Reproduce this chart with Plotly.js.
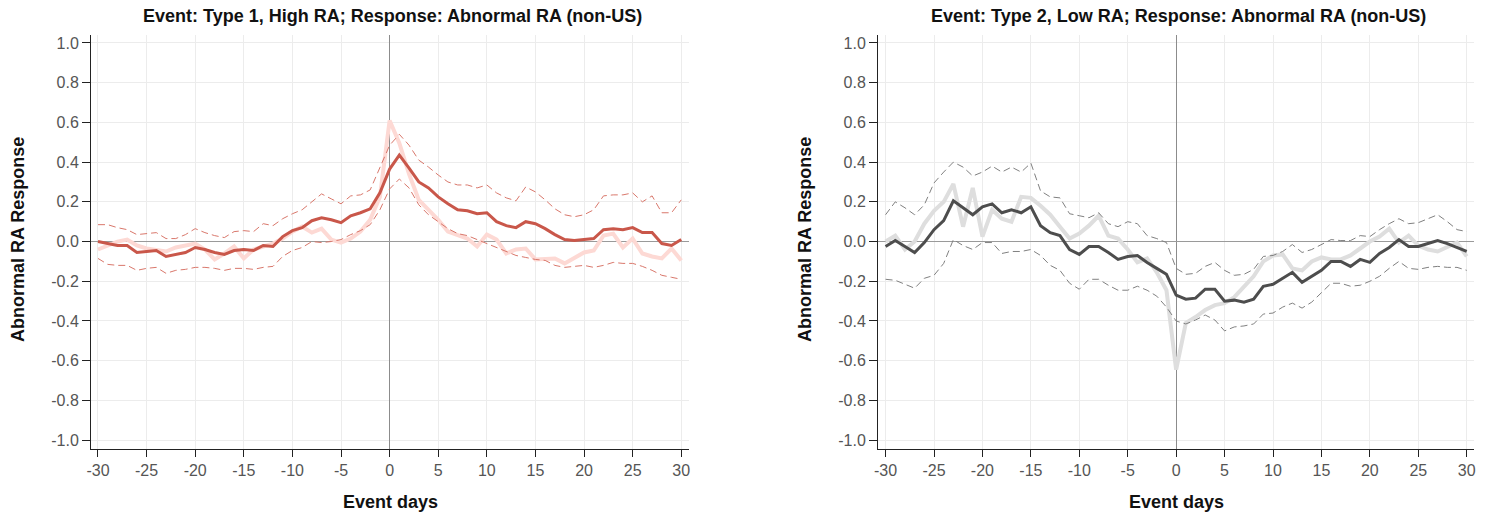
<!DOCTYPE html>
<html>
<head>
<meta charset="utf-8">
<script src="https://cdn.plot.ly/plotly-3.0.1.min.js"></script>
<style>html,body{margin:0;padding:0;background:#fff;}#chart{width:1494px;height:515px;}</style>
</head>
<body>
<div id="chart"></div>
<script>
const days = [-30,-29,-28,-27,-26,-25,-24,-23,-22,-21,-20,-19,-18,-17,-16,-15,-14,-13,-12,-11,-10,-9,-8,-7,-6,-5,-4,-3,-2,-1,0,1,2,3,4,5,6,7,8,9,10,11,12,13,14,15,16,17,18,19,20,21,22,23,24,25,26,27,28,29,30];

// Panel 1: Type 1, High RA
const highMain = [0.0,-0.01,-0.02,-0.02,-0.055,-0.05,-0.045,-0.075,-0.065,-0.055,-0.03,-0.04,-0.055,-0.065,-0.045,-0.04,-0.045,-0.02,-0.025,0.025,0.055,0.07,0.105,0.12,0.11,0.095,0.13,0.145,0.165,0.245,0.365,0.435,0.37,0.30,0.27,0.225,0.19,0.16,0.155,0.14,0.145,0.10,0.08,0.07,0.10,0.09,0.065,0.035,0.01,0.005,0.01,0.015,0.06,0.065,0.06,0.07,0.045,0.045,-0.01,-0.02,0.01];
const highRaw = [-0.04,-0.02,0.0,0.01,-0.02,-0.035,-0.04,-0.05,-0.03,-0.02,-0.01,-0.04,-0.09,-0.06,-0.025,-0.085,-0.04,-0.025,-0.01,0.015,0.05,0.075,0.045,0.065,0.01,-0.005,0.015,0.05,0.11,0.225,0.61,0.495,0.34,0.21,0.16,0.11,0.05,0.035,0.015,-0.025,0.035,0.01,-0.06,-0.04,-0.035,-0.09,-0.085,-0.085,-0.11,-0.08,-0.055,-0.045,0.03,0.04,-0.03,0.015,-0.06,-0.075,-0.085,-0.035,-0.095];
const highUpper = [0.085,0.085,0.07,0.06,0.035,0.04,0.045,0.015,0.015,0.035,0.065,0.045,0.03,0.02,0.05,0.055,0.05,0.09,0.08,0.115,0.14,0.16,0.20,0.24,0.215,0.19,0.23,0.235,0.26,0.375,0.485,0.54,0.485,0.41,0.375,0.335,0.30,0.285,0.285,0.27,0.285,0.245,0.22,0.205,0.275,0.25,0.21,0.165,0.135,0.125,0.135,0.16,0.23,0.235,0.235,0.245,0.20,0.23,0.145,0.145,0.21];
const highLower = [-0.085,-0.115,-0.12,-0.12,-0.145,-0.135,-0.13,-0.16,-0.145,-0.14,-0.13,-0.13,-0.135,-0.145,-0.135,-0.135,-0.14,-0.13,-0.125,-0.075,-0.045,-0.03,0.0,-0.005,0.0,0.01,0.035,0.055,0.085,0.16,0.265,0.315,0.27,0.185,0.135,0.10,0.065,0.04,0.03,0.01,-0.01,-0.03,-0.05,-0.07,-0.08,-0.09,-0.095,-0.12,-0.13,-0.125,-0.12,-0.13,-0.12,-0.105,-0.11,-0.11,-0.125,-0.145,-0.17,-0.18,-0.19];

// Panel 2: Type 2, Low RA
const lowMain = [-0.025,0.005,-0.025,-0.055,-0.005,0.06,0.105,0.205,0.17,0.135,0.175,0.19,0.145,0.16,0.145,0.175,0.08,0.045,0.03,-0.04,-0.065,-0.025,-0.025,-0.055,-0.09,-0.075,-0.07,-0.105,-0.135,-0.165,-0.27,-0.29,-0.285,-0.24,-0.24,-0.30,-0.295,-0.305,-0.29,-0.225,-0.215,-0.185,-0.155,-0.205,-0.175,-0.145,-0.10,-0.10,-0.125,-0.09,-0.105,-0.06,-0.03,0.01,-0.025,-0.025,-0.01,0.005,-0.01,-0.03,-0.05];
const lowRaw = [0.0,0.03,-0.04,0.0,0.09,0.155,0.20,0.29,0.075,0.27,0.025,0.16,0.115,0.10,0.225,0.22,0.18,0.135,0.075,0.015,0.04,0.08,0.13,0.03,0.015,-0.04,-0.105,-0.085,-0.155,-0.245,-0.645,-0.41,-0.38,-0.345,-0.32,-0.31,-0.28,-0.23,-0.175,-0.10,-0.07,-0.065,-0.135,-0.145,-0.10,-0.08,-0.09,-0.09,-0.07,-0.035,0.0,0.025,0.065,-0.005,0.03,-0.02,-0.04,-0.05,-0.03,-0.005,-0.075];
const lowUpper = [0.135,0.20,0.17,0.135,0.185,0.295,0.35,0.40,0.375,0.33,0.35,0.38,0.35,0.375,0.35,0.395,0.255,0.225,0.22,0.14,0.13,0.12,0.145,0.09,0.075,0.10,0.09,0.03,0.015,-0.005,-0.135,-0.165,-0.16,-0.125,-0.105,-0.145,-0.17,-0.165,-0.14,-0.075,-0.07,-0.05,-0.015,-0.055,-0.04,-0.015,0.01,0.005,0.005,0.03,0.025,0.06,0.09,0.115,0.09,0.095,0.115,0.135,0.10,0.06,0.05];
const lowLower = [-0.19,-0.195,-0.215,-0.235,-0.185,-0.17,-0.11,0.01,-0.02,-0.04,-0.005,-0.005,-0.06,-0.05,-0.05,-0.04,-0.07,-0.12,-0.145,-0.21,-0.24,-0.19,-0.19,-0.22,-0.245,-0.245,-0.225,-0.245,-0.275,-0.33,-0.40,-0.415,-0.395,-0.37,-0.395,-0.45,-0.43,-0.425,-0.415,-0.365,-0.36,-0.33,-0.31,-0.335,-0.305,-0.255,-0.21,-0.21,-0.225,-0.22,-0.20,-0.175,-0.135,-0.10,-0.135,-0.14,-0.13,-0.125,-0.13,-0.13,-0.145];

const xTickVals = [-30,-25,-20,-15,-10,-5,0,5,10,15,20,25,30];
const xTickText = ["-30","-25","-20","-15","-10","-5","0","5","10","15","20","25","30"];
const yTickVals = [-1.0,-0.8,-0.6,-0.4,-0.2,0.0,0.2,0.4,0.6,0.8,1.0];
const yTickText = ["-1.0","-0.8","-0.6","-0.4","-0.2","0.0","0.2","0.4","0.6","0.8","1.0"];

const titles = ["Event: Type 1, High RA; Response: Abnormal RA (non-US)", "Event: Type 2, Low RA; Response: Abnormal RA (non-US)"];
const xTitle = "Event days";
const yTitle = "Abnormal RA Response";

const FONT = "Liberation Sans, Arial, sans-serif";
const DASH = "7px,4px";
const W = 1494, H = 515;

function line(x, y, xa, ya, color, width, dash) {
  return {x: x, y: y, xaxis: xa, yaxis: ya, type: "scatter", mode: "lines",
    line: {color: color, width: width, dash: dash || "solid"}, hoverinfo: "skip", showlegend: false};
}

const traces = [
  line(days, highRaw, "x", "y", "#fdd9d4", 4),
  line(days, highUpper, "x", "y", "#d9776b", 1, DASH),
  line(days, highLower, "x", "y", "#d9776b", 1, DASH),
  line(days, highMain, "x", "y", "#c9574a", 3),
  line(days, lowRaw, "x2", "y2", "#dedede", 4),
  line(days, lowUpper, "x2", "y2", "#808080", 1, DASH),
  line(days, lowLower, "x2", "y2", "#808080", 1, DASH),
  line(days, lowMain, "x2", "y2", "#4d4d4d", 3)
];

function xax(domain, range, anchor) {
  return {domain: domain, range: range, anchor: anchor, tickmode: "array", tickvals: xTickVals, ticktext: xTickText,
    showgrid: true, gridcolor: "#ececec", gridwidth: 1, zeroline: true, zerolinecolor: "#8c8c8c", zerolinewidth: 1,
    showline: true, linecolor: "#222", linewidth: 1, ticks: "outside", ticklen: 7, tickcolor: "#222",
    tickfont: {family: FONT, size: 16, color: "#555"}};
}
function yax(anchor) {
  return {domain: [0.128, 0.932], range: [-1.045, 1.04], anchor: anchor, tickmode: "array", tickvals: yTickVals, ticktext: yTickText,
    showgrid: true, gridcolor: "#ececec", gridwidth: 1, zeroline: true, zerolinecolor: "#9a9a9a", zerolinewidth: 1.5,
    showline: true, linecolor: "#222", linewidth: 1, ticks: "outside", ticklen: 8, tickcolor: "#222",
    tickfont: {family: FONT, size: 16, color: "#555"}};
}

function ann(text, x, y, angle) {
  return {text: "<b>" + text + "</b>", xref: "paper", yref: "paper", x: x / W, y: 1 - y / H,
    xanchor: "center", yanchor: "middle", showarrow: false, textangle: angle || 0,
    font: {family: FONT, size: 18, color: "#111"}};
}

const layout = {
  width: W, height: H, margin: {l: 0, r: 0, t: 0, b: 0},
  paper_bgcolor: "#fff", plot_bgcolor: "#fff", showlegend: false,
  xaxis: xax([0.0609, 0.4612], [-30.72, 30.8], "y"),
  yaxis: yax("x"),
  xaxis2: xax([0.5877, 0.9866], [-30.78, 30.75], "y2"),
  yaxis2: yax("x2"),
  annotations: [
    ann(titles[0], 392, 16),
    ann(titles[1], 1178, 16),
    ann(xTitle, 390, 502),
    ann(xTitle, 1176, 502),
    ann(yTitle, 18, 240, -90),
    ann(yTitle, 805, 240, -90)
  ]
};

Plotly.newPlot("chart", traces, layout, {displayModeBar: false, staticPlot: true});
</script>
</body>
</html>
